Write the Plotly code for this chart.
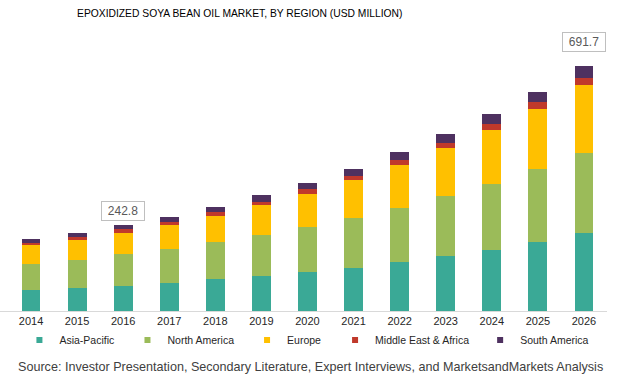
import plotly.graph_objects as go

years = [2014, 2015, 2016, 2017, 2018, 2019, 2020, 2021, 2022, 2023, 2024, 2025, 2026]
asia_pacific = [60.2, 65.9, 71.1, 80.0, 89.6, 99.8, 111.1, 122.4, 138.5, 156.3, 173.3, 195.9, 219.7]
north_america = [73.5, 79.2, 88.8, 96.1, 104.6, 114.2, 127.2, 141.4, 153.5, 168.8, 186.6, 205.5, 226.2]
europe = [52.0, 56.5, 61.1, 67.8, 75.2, 84.8, 93.3, 105.7, 119.9, 134.8, 152.7, 170.5, 193.1]
middle_east_africa = [7.4, 8.5, 9.6, 7.6, 10.5, 8.5, 13.3, 12.2, 15.0, 15.0, 16.1, 18.7, 18.9]
south_america = [10.5, 10.5, 12.2, 15.0, 15.0, 19.8, 17.0, 20.6, 22.6, 25.4, 27.4, 28.3, 33.8]

series_names = ["Asia-Pacific", "North America", "Europe", "Middle East & Africa", "South America"]
series_values = [asia_pacific, north_america, europe, middle_east_africa, south_america]
colors = ["#3aa996", "#9bbb59", "#ffc000", "#c0392b", "#4e3160"]

label_years = [2016, 2026]
label_texts = ["242.8", "691.7"]

font_main = "Liberation Sans, Arial, sans-serif"

fig = go.Figure()
for name, vals, col in zip(series_names, series_values, colors):
    fig.add_trace(go.Bar(x=years, y=vals, name=name, marker=dict(color=col, line=dict(width=0)),
                         width=0.41, showlegend=False))

legend_x = [0.032, 0.21, 0.407, 0.552, 0.791]
for i, (name, col) in enumerate(zip(series_names, colors)):
    fig.add_trace(go.Scatter(x=[None], y=[None], mode="markers", name=name,
                             marker=dict(symbol="square", size=6, color=col),
                             legend=f"legend{i+2}", showlegend=True))

totals = [sum(v) for v in zip(*series_values)]
shifts = {2016: 4, 2026: 14}
for yr, txt in zip(label_years, label_texts):
    idx = years.index(yr)
    fig.add_annotation(x=yr, y=totals[idx], text=txt, showarrow=False, yanchor="bottom",
                       yshift=shifts[yr], width=38, height=14,
                       font=dict(family=font_main, size=12, color="#595959"),
                       bordercolor="#bfbfbf", borderwidth=1, borderpad=2, bgcolor="white")

fig.add_annotation(text="Source: Investor Presentation, Secondary Literature, Expert Interviews, and MarketsandMarkets Analysis",
                   xref="paper", yref="paper", x=0.511, y=-0.2066, xanchor="center", yanchor="middle",
                   showarrow=False, font=dict(family=font_main, size=12.6, color="#404040"))

legends = {}
for i in range(5):
    legends[f"legend{i+2}"] = dict(x=legend_x[i], y=-0.107, xanchor="left", yanchor="middle",
                                   orientation="h", bgcolor="rgba(0,0,0,0)", itemwidth=30,
                                   font=dict(family=font_main, size=10.5, color="#262626"))

fig.update_layout(
    width=621, height=389,
    margin=dict(l=0, r=14, t=40, b=78),
    paper_bgcolor="white", plot_bgcolor="white",
    barmode="stack",
    showlegend=True,
    title=dict(text="EPOXIDIZED SOYA BEAN OIL MARKET, BY REGION (USD MILLION)",
               x=0.395, xref="paper", xanchor="center", y=1 - 13 / 389, yanchor="middle",
               font=dict(family=font_main, size=10.3, color="#000000")),
    xaxis=dict(range=[2013.327, 2026.5], tickmode="array", tickvals=years, ticktext=[str(y) for y in years],
               showgrid=False, showline=True, linecolor="#d9d9d9", linewidth=1, ticks="",
               tickfont=dict(family=font_main, size=11, color="#262626"), zeroline=False, fixedrange=True),
    yaxis=dict(range=[0, 766], visible=False, showgrid=False, zeroline=False),
    **legends,
)

fig.write_html("out.html", config={"displayModeBar": False},
               post_script="document.body.style.margin='0';")
